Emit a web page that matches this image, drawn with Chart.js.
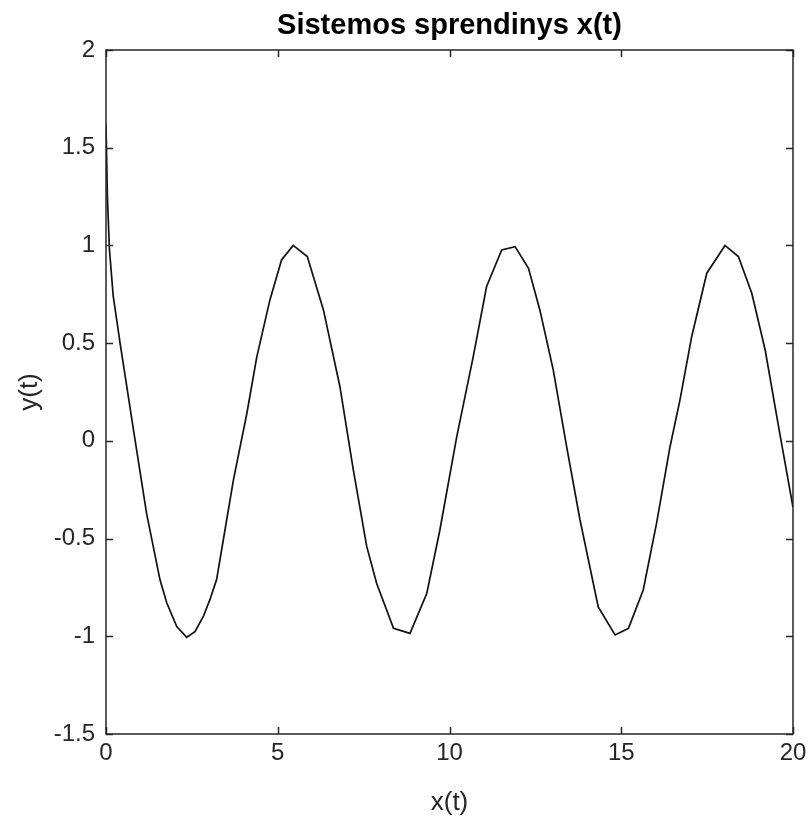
<!DOCTYPE html>
<html lang="lt">
<head>
    <meta charset="UTF-8">
    <title>Sistemos sprendinys x(t)</title>
    <style>
        body {
            margin: 0;
            background-color: #ffffff;
        }
        .chart-container {
            position: relative;
            width: 812px;
            height: 821px;
        }
    </style>
</head>
<body>
    <div class="chart-container">
        <canvas id="sprendinys-chart"></canvas>
    </div>

    <script src="https://cdn.jsdelivr.net/npm/chart.js"></script>

    <script>
        // laiko taskai ir sprendinio reiksmes (nuskaityta nuo grafiko)
        const tValues = [0, 0.04, 0.1, 0.21, 0.41, 0.8, 1.18, 1.57, 1.77, 2.06, 2.35, 2.59, 2.83, 3.03, 3.22, 3.46, 3.71,
            4.1, 4.39, 4.77, 5.11, 5.45, 5.86, 6.33, 6.81, 7.2, 7.59, 7.88, 8.37, 8.85, 9.34, 9.72, 10.21, 10.69,
            11.08, 11.52, 11.91, 12.3, 12.63, 13.02, 13.41, 13.8, 14.33, 14.82, 15.21, 15.64, 16.03, 16.42, 16.71,
            17.05, 17.49, 18.02, 18.41, 18.8, 19.19, 19.58, 20];
        const xValues = [1.62, 1.25, 0.98, 0.74, 0.5, 0.056, -0.37, -0.71, -0.83, -0.95, -1.005, -0.976, -0.9, -0.81, -0.71, -0.46, -0.2,
            0.14, 0.43, 0.72, 0.926, 1.0, 0.943, 0.67, 0.277, -0.149, -0.54, -0.73, -0.959, -0.985, -0.78, -0.456, 0.02, 0.43,
            0.79, 0.977, 0.994, 0.883, 0.67, 0.363, -0.03, -0.405, -0.85, -0.993, -0.959, -0.763, -0.42, -0.03, 0.21,
            0.533, 0.858, 1.0, 0.943, 0.755, 0.465, 0.073, -0.34];
        const xTicks = [0, 5, 10, 15, 20];
        const yTicks = [-1.5, -1, -0.5, 0, 0.5, 1, 1.5, 2];
        const chartTitle = 'Sistemos sprendinys x(t)';

        const axisColor = '#262626';
        const fontFamily = "'Liberation Sans', Arial, Helvetica, sans-serif";

        // MATLAB stiliaus remelis su vidinemis padalomis ir pavadinimas virs asiu
        const boxPlugin = {
            id: 'boxTicks',
            afterDatasetsDraw(chart) {
                const { ctx, chartArea: a, scales } = chart;
                const len = 7;
                ctx.save();
                ctx.strokeStyle = axisColor;
                ctx.lineWidth = 1.5;
                ctx.beginPath();
                xTicks.forEach(v => {
                    const px = Math.round(scales.x.getPixelForValue(v)) + 0.5;
                    ctx.moveTo(px, a.bottom); ctx.lineTo(px, a.bottom - len);
                    ctx.moveTo(px, a.top); ctx.lineTo(px, a.top + len);
                });
                yTicks.forEach(v => {
                    const py = Math.round(scales.y.getPixelForValue(v)) + 0.5;
                    ctx.moveTo(a.left, py); ctx.lineTo(a.left + len, py);
                    ctx.moveTo(a.right, py); ctx.lineTo(a.right - len, py);
                });
                ctx.stroke();
                ctx.strokeRect(a.left, a.top, a.right - a.left, a.bottom - a.top);

                ctx.fillStyle = '#000000';
                ctx.font = 'bold 29px ' + fontFamily;
                ctx.textAlign = 'center';
                ctx.textBaseline = 'middle';
                ctx.fillText(chartTitle, (a.left + a.right) / 2, a.top - 24);
                ctx.restore();
            }
        };

        const ctx = document.getElementById('sprendinys-chart').getContext('2d');
        const chart = new Chart(ctx, {
            type: 'line',
            data: {
                datasets: [{
                    label: 'x(t)',
                    data: tValues.map((t, i) => ({ x: t, y: xValues[i] })),
                    borderColor: '#111111',
                    borderWidth: 1.7,
                    pointRadius: 0,
                    tension: 0,
                    fill: false
                }]
            },
            options: {
                responsive: true,
                maintainAspectRatio: false,
                animation: false,
                layout: {
                    padding: { left: 0, right: 19, top: 50, bottom: 0 }
                },
                scales: {
                    x: {
                        type: 'linear',
                        min: 0,
                        max: 20,
                        afterFit: s => { s.height = 87; },
                        afterBuildTicks: s => { s.ticks = xTicks.map(v => ({ value: v })); },
                        grid: { display: false, drawTicks: false },
                        border: { display: false },
                        ticks: {
                            color: axisColor,
                            padding: 5,
                            maxRotation: 0,
                            font: { family: fontFamily, size: 24 },
                            callback: v => String(v)
                        },
                        title: {
                            display: true,
                            text: 'x(t)',
                            color: axisColor,
                            padding: { top: 0, bottom: 3 },
                            font: { family: fontFamily, size: 26 }
                        }
                    },
                    y: {
                        type: 'linear',
                        min: -1.5,
                        max: 2,
                        afterFit: s => { s.width = 106; },
                        afterBuildTicks: s => { s.ticks = yTicks.map(v => ({ value: v })); },
                        grid: { display: false, drawTicks: false },
                        border: { display: false },
                        ticks: {
                            color: axisColor,
                            padding: 11,
                            font: { family: fontFamily, size: 24 },
                            callback: v => String(v)
                        },
                        title: {
                            display: true,
                            text: 'y(t)',
                            color: axisColor,
                            padding: { top: 14, bottom: 0 },
                            font: { family: fontFamily, size: 26 }
                        }
                    }
                },
                plugins: {
                    legend: { display: false },
                    tooltip: { enabled: false },
                    title: { display: false }
                }
            },
            plugins: [boxPlugin]
        });
    </script>
</body>
</html>
